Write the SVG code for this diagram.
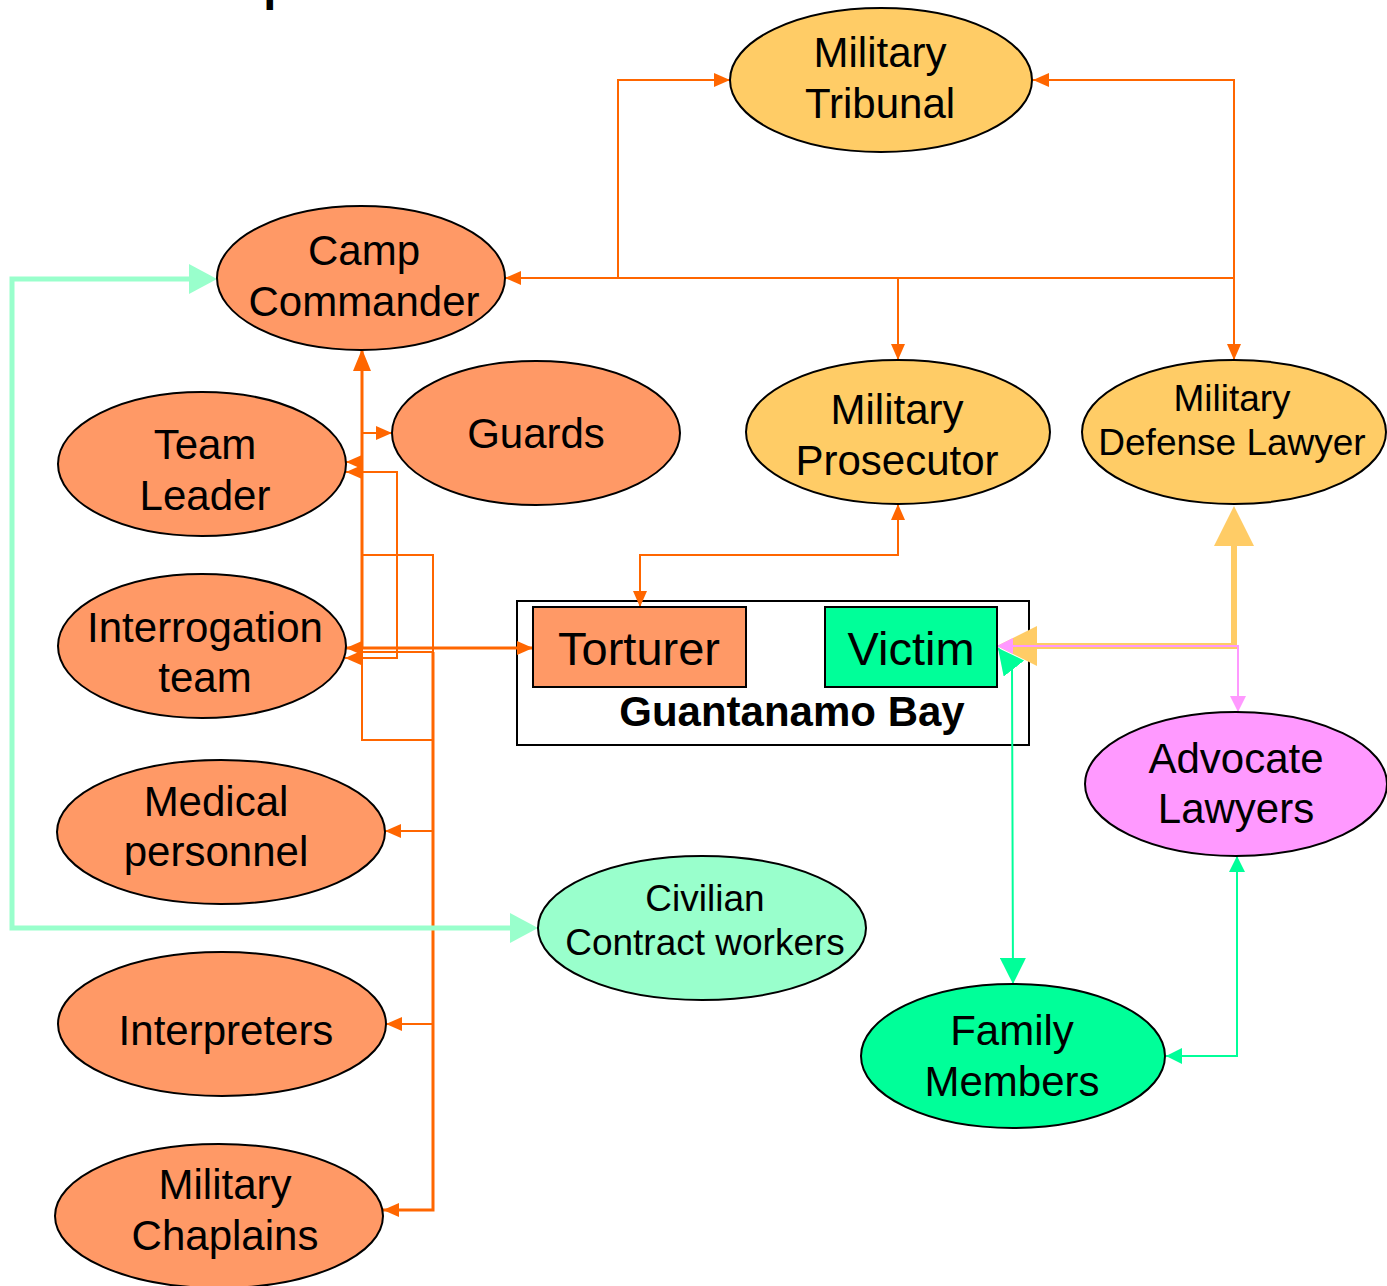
<svg xmlns="http://www.w3.org/2000/svg" width="1387" height="1286" viewBox="0 0 1387 1286">
<style>
text{font-family:"Liberation Sans",Arial,sans-serif;fill:#000;text-anchor:middle}
.t42{font-size:42px}
.t37{font-size:37px}
.t47{font-size:47px}
.node{stroke:#000;stroke-width:2}
.or{fill:#FF9966}
.ye{fill:#FFCC66}
.o{fill:none;stroke:#FF6600;stroke-width:2}
.o3{fill:none;stroke:#FF6600;stroke-width:3}
</style>
<defs>
<marker id="ao" markerUnits="userSpaceOnUse" markerWidth="16" markerHeight="14" refX="16" refY="7" orient="auto-start-reverse"><path d="M0,0L16,7L0,14z" fill="#FF6600"/></marker>
<marker id="aoL" markerUnits="userSpaceOnUse" markerWidth="22" markerHeight="18" refX="20" refY="9" orient="auto-start-reverse"><path d="M0,0L22,9L0,18z" fill="#FF6600"/></marker>
<marker id="ay" markerUnits="userSpaceOnUse" markerWidth="40" markerHeight="40" refX="30" refY="20" orient="auto-start-reverse"><path d="M0,0L40,20L0,40z" fill="#FFCC66"/></marker>
<marker id="ac" markerUnits="userSpaceOnUse" markerWidth="28" markerHeight="30" refX="18" refY="15" orient="auto-start-reverse"><path d="M0,0L28,15L0,30z" fill="#99FFCC"/></marker>
<marker id="ag" markerUnits="userSpaceOnUse" markerWidth="26" markerHeight="26" refX="26" refY="13" orient="auto-start-reverse"><path d="M0,0L26,13L0,26z" fill="#00FF99"/></marker>
<marker id="ags" markerUnits="userSpaceOnUse" markerWidth="16" markerHeight="16" refX="16" refY="8" orient="auto-start-reverse"><path d="M0,0L16,8L0,16z" fill="#00FF99"/></marker>
<marker id="ap" markerUnits="userSpaceOnUse" markerWidth="16" markerHeight="16" refX="16" refY="8" orient="auto-start-reverse"><path d="M0,0L16,8L0,16z" fill="#FF99FF"/></marker>
</defs>
<rect width="1387" height="1286" fill="#fff"/>
<text x="10" y="0" style="font-size:47px;font-weight:bold;text-anchor:start">Relationships</text>

<g id="guantanamo">
<rect x="517" y="601" width="512" height="144" fill="#fff" stroke="#000" stroke-width="2"/>
<text x="792" y="726" class="t42" style="font-weight:bold">Guantanamo Bay</text>
</g>

<g id="connectors">
<path class="o" d="M505,278H618V80H730" marker-start="url(#ao)" marker-end="url(#ao)"/>
<path class="o" d="M618,278H1234"/>
<path class="o" d="M898,278V360" marker-end="url(#ao)"/>
<path class="o" d="M1033,80H1234V360" marker-start="url(#ao)" marker-end="url(#ao)"/>
<path class="o" d="M898,504V555H640V607" marker-start="url(#ao)" marker-end="url(#ao)"/>
<path class="o3" d="M362,648V351" marker-end="url(#aoL)"/>
<path class="o" d="M362,648V740H433"/>
<path class="o" d="M362,433H392" marker-end="url(#ao)"/>
<path class="o" d="M362,462H346" marker-end="url(#ao)"/>
<path class="o" d="M346,472H397V658H345" marker-start="url(#ao)" marker-end="url(#ao)"/>
<path class="o" d="M362,555H433V652"/>
<path class="o3" d="M433,652V1210H383" marker-end="url(#ao)"/>
<path class="o" d="M433,831H385" marker-end="url(#ao)"/>
<path class="o" d="M433,1024H386" marker-end="url(#ao)"/>
<path class="o" d="M362,652H433"/>
<path class="o3" d="M533,648H346" marker-start="url(#ao)" marker-end="url(#ao)"/>
<path fill="none" stroke="#99FFCC" stroke-width="5" d="M207,279H12V928H528" marker-start="url(#ac)" marker-end="url(#ac)"/>
<path fill="none" stroke="#FFCC66" stroke-width="6" d="M1007,646H1234V516" marker-start="url(#ay)" marker-end="url(#ay)"/>
<path fill="none" stroke="#FF99FF" stroke-width="2" d="M997,646H1238V712" marker-start="url(#ap)" marker-end="url(#ap)"/>
<path fill="none" stroke="#00FF99" stroke-width="2" d="M1013,984L1012,666L998,648" marker-start="url(#ag)" marker-end="url(#ag)"/>
<path fill="none" stroke="#00FF99" stroke-width="2" d="M1237,856V1056H1166" marker-start="url(#ags)" marker-end="url(#ags)"/>
</g>

<g id="tribunal"><ellipse class="node ye" cx="881" cy="80" rx="151" ry="72"/><text class="t42" x="880" y="67">Military</text><text class="t42" x="880" y="118">Tribunal</text></g>
<g id="camp-commander"><ellipse class="node or" cx="361" cy="278" rx="144" ry="72"/><text class="t42" x="364" y="265">Camp</text><text class="t42" x="364" y="316">Commander</text></g>
<g id="guards"><ellipse class="node or" cx="536" cy="433" rx="144" ry="72"/><text class="t42" x="536" y="448">Guards</text></g>
<g id="team-leader"><ellipse class="node or" cx="202" cy="464" rx="144" ry="72"/><text class="t42" x="205" y="459">Team</text><text class="t42" x="205" y="510">Leader</text></g>
<g id="prosecutor"><ellipse class="node ye" cx="898" cy="432" rx="152" ry="72"/><text class="t42" x="897" y="424">Military</text><text class="t42" x="897" y="475">Prosecutor</text></g>
<g id="defense-lawyer"><ellipse class="node ye" cx="1234" cy="432" rx="152" ry="72"/><text class="t37" x="1232" y="411">Military</text><text class="t37" x="1232" y="455">Defense Lawyer</text></g>
<g id="interrogation"><ellipse class="node or" cx="202" cy="646" rx="144" ry="72"/><text class="t42" x="205" y="642">Interrogation</text><text class="t42" x="205" y="692">team</text></g>
<g id="torturer"><rect class="node or" x="533" y="607" width="213" height="80"/><text class="t47" x="639" y="665">Torturer</text></g>
<g id="victim"><rect x="825" y="607" width="172" height="80" fill="#00FF99" stroke="#000" stroke-width="2"/><text class="t47" x="911" y="665">Victim</text></g>
<g id="medical"><ellipse class="node or" cx="221" cy="832" rx="164" ry="72"/><text class="t42" x="216" y="816">Medical</text><text class="t42" x="216" y="866">personnel</text></g>
<g id="civilian"><ellipse class="node" fill="#99FFCC" cx="702" cy="928" rx="164" ry="72"/><text class="t37" x="705" y="911">Civilian</text><text class="t37" x="705" y="955">Contract workers</text></g>
<g id="advocate"><ellipse class="node" fill="#FF99FF" cx="1236" cy="784" rx="151" ry="72"/><text class="t42" x="1236" y="773">Advocate</text><text class="t42" x="1236" y="823">Lawyers</text></g>
<g id="family"><ellipse class="node" fill="#00FF99" cx="1013" cy="1056" rx="152" ry="72"/><text class="t42" x="1012" y="1045">Family</text><text class="t42" x="1012" y="1096">Members</text></g>
<g id="interpreters"><ellipse class="node or" cx="222" cy="1024" rx="164" ry="72"/><text class="t42" x="226" y="1045">Interpreters</text></g>
<g id="chaplains"><ellipse class="node or" cx="219" cy="1216" rx="164" ry="72"/><text class="t42" x="225" y="1199">Military</text><text class="t42" x="225" y="1250">Chaplains</text></g>
</svg>
